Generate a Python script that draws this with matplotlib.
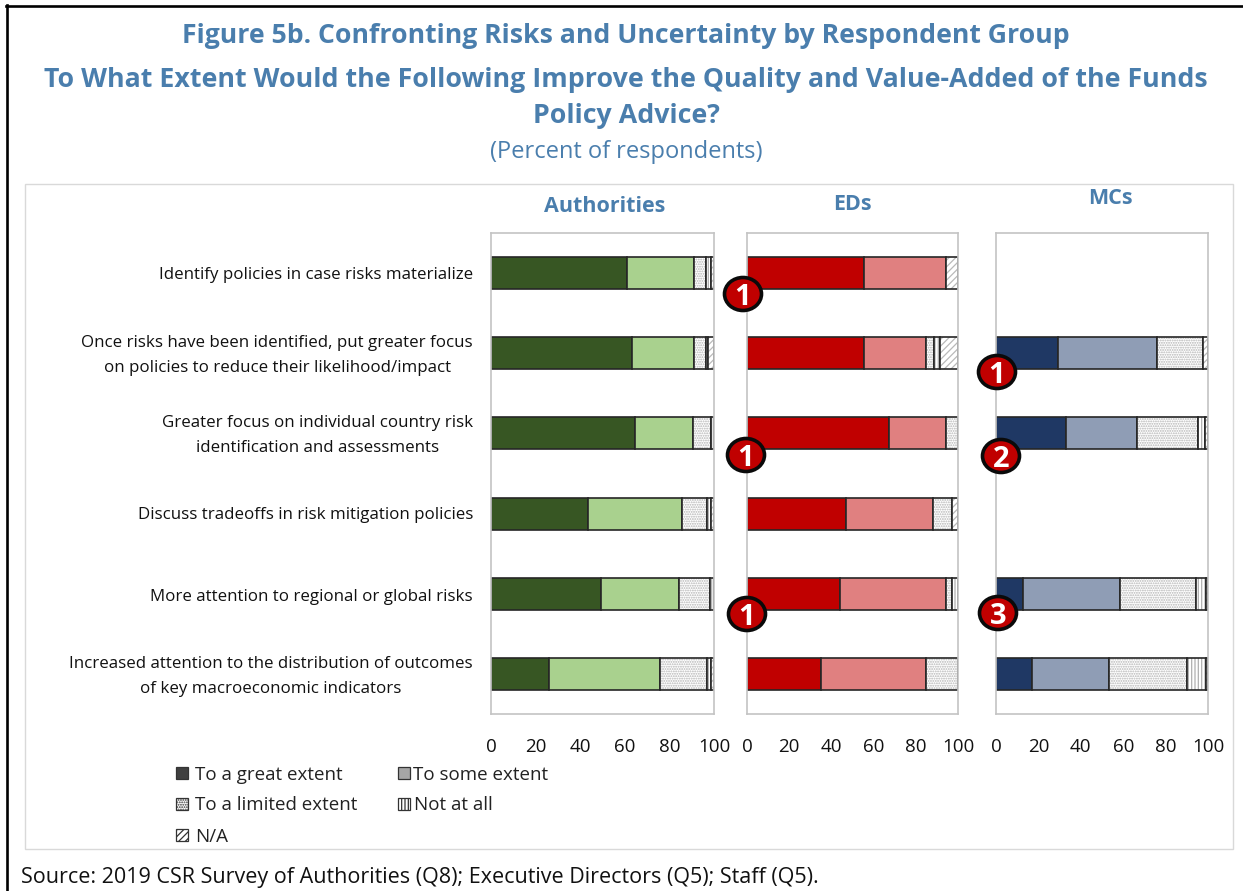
import matplotlib
matplotlib.use("Agg")
import matplotlib.pyplot as plt
from matplotlib.patches import Ellipse, Rectangle
from matplotlib.lines import Line2D
import numpy as np

plt.rcParams['font.family'] = ['Open Sans', 'DejaVu Sans']
plt.rcParams['hatch.linewidth'] = 0.9

W, H = 1243, 891

categories = [
    "Identify policies in case risks materialize",
    "Once risks have been identified, put greater focus\non policies to reduce their likelihood/impact",
    "Greater focus on individual country risk\nidentification and assessments",
    "Discuss tradeoffs in risk mitigation policies",
    "More attention to regional or global risks",
    "Increased attention to the distribution of outcomes\nof key macroeconomic indicators",
]
series_names = ["To a great extent", "To some extent", "To a limited extent", "Not at all", "N/A"]

auth_great = [61.2, 63.4, 64.5, 43.5, 49.5, 26.2]
auth_some = [29.8, 27.6, 25.9, 42.0, 34.9, 49.4]
auth_limited = [5.2, 5.2, 8.1, 11.5, 14.0, 21.4]
auth_none = [2.3, 1.0, 1.5, 1.5, 1.6, 1.8]
auth_na = [1.5, 2.8, 0.0, 1.5, 0.0, 1.2]

ed_great = [55.6, 55.6, 67.2, 46.8, 43.9, 35.0]
ed_some = [38.5, 29.0, 26.9, 41.3, 50.2, 49.8]
ed_limited = [0.0, 3.8, 5.9, 8.9, 2.9, 15.2]
ed_none = [0.0, 2.9, 0.0, 0.0, 3.0, 0.0]
ed_na = [5.9, 8.7, 0.0, 3.0, 0.0, 0.0]

mc_great = [np.nan, 29.1, 33.2, np.nan, 12.8, 16.9]
mc_some = [np.nan, 46.8, 33.1, np.nan, 45.8, 36.6]
mc_limited = [np.nan, 21.6, 29.0, np.nan, 35.6, 36.5]
mc_none = [np.nan, 0.0, 3.4, np.nan, 4.8, 9.0]
mc_na = [np.nan, 2.5, 1.3, np.nan, 1.0, 1.0]

panel_titles = ["Authorities", "EDs", "MCs"]
xticks = [0, 20, 40, 60, 80, 100]
badge_labels = ["1", "1", "1", "1", "2", "3"]

title_blue = "#4a7ead"
fig = plt.figure(figsize=(W / 100, H / 100), dpi=100)

def frect(x0, y0, x1, y1):
    return [x0 / W, 1 - y1 / H, (x1 - x0) / W, (y1 - y0) / H]

def ftext(x, y, s, **kw):
    fig.text(x / W, 1 - (y + 2) / H, s, **kw)

# outer frame: top and left rules only, running off the image
fig.add_artist(Line2D([6.5 / W, 6.5 / W], [0, 1 - 5 / H], transform=fig.transFigure, color="black", lw=1.9))
fig.add_artist(Line2D([5.5 / W, 1], [1 - 6 / H, 1 - 6 / H], transform=fig.transFigure, color="black", lw=1.9))
fig.add_artist(Rectangle((25 / W, 1 - 849 / H), (1233 - 25) / W, (849 - 184) / H, transform=fig.transFigure,
                         fill=False, ec="#d9d9d9", lw=1.0))

ftext(626, 34, "Figure 5b. Confronting Risks and Uncertainty by Respondent Group", ha="center", va="center",
      fontsize=19.2, fontweight="bold", color=title_blue)
ftext(626, 78, "To What Extent Would the Following Improve the Quality and Value-Added of the Funds", ha="center",
      va="center", fontsize=19.3, fontweight="bold", color=title_blue)
ftext(626, 114, "Policy Advice?", ha="center", va="center", fontsize=19.3, fontweight="bold", color=title_blue)
ftext(626, 150, "(Percent of respondents)", ha="center", va="center", fontsize=17, color=title_blue)
ftext(21, 875, "Source: 2019 CSR Survey of Authorities (Q8); Executive Directors (Q5); Staff (Q5).", ha="left",
      va="center", fontsize=15.5, color="#111111")

panels = [
    dict(rect=(491, 233, 714, 714), vals=[auth_great, auth_some, auth_limited, auth_none, auth_na],
         cols=("#375623", "#a9d18e"), title_y=204, title_c=605),
    dict(rect=(747, 233, 958, 714), vals=[ed_great, ed_some, ed_limited, ed_none, ed_na],
         cols=("#c00000", "#e08080"), title_y=203, title_c=852),
    dict(rect=(996, 233, 1208, 714), vals=[mc_great, mc_some, mc_limited, mc_none, mc_na],
         cols=("#1f3864", "#8f9db5"), title_y=197, title_c=1110),
]

y = np.arange(len(categories))
axes = []
for p, title in zip(panels, panel_titles):
    ax = fig.add_axes(frect(*p["rect"]))
    axes.append(ax)
    left = np.zeros(len(categories))
    styles = [
        dict(color=p["cols"][0], hatch=None),
        dict(color=p["cols"][1], hatch=None),
        dict(color="white", hatch=".......", hc="#b4b4b4"),
        dict(color="white", hatch="|||||", hc="#b0b0b0"),
        dict(color="white", hatch="/////", hc="#bababa"),
    ]
    for vals, st in zip(p["vals"], styles):
        v = np.array(vals, dtype=float)
        mask = ~np.isnan(v) & (v > 0)
        if st["hatch"]:
            ax.barh(y[mask], v[mask], left=left[mask], height=0.4, facecolor="white", edgecolor=st["hc"],
                    hatch=st["hatch"], lw=0)
            ax.barh(y[mask], v[mask], left=left[mask], height=0.4, fill=False, edgecolor="#262626", lw=1.2)
        else:
            ax.barh(y[mask], v[mask], left=left[mask], height=0.4, color=st["color"], edgecolor="#262626", lw=1.2)
        left = left + np.nan_to_num(v)
    ax.set_xlim(0, 100)
    ax.set_ylim(len(categories) - 0.5, -0.5)
    ax.set_xticks(xticks)
    ax.set_yticks([])
    ax.tick_params(axis="x", length=0, labelsize=13.5, pad=17, labelcolor="#111111")
    for s in ax.spines.values():
        s.set_color("#c4c4c4")
        s.set_linewidth(1.2)
    ftext(p["title_c"], p["title_y"], title, ha="center", va="center", fontsize=15.5, fontweight="bold",
          color=title_blue)

# category labels
label_y = [273, 353.5, 433.5, 513, 595, 674.5]
for lab, yy in zip(categories, label_y):
    fig.text(473 / W, 1 - (yy + 2) / H, lab, ha="right", va="center", multialignment="center", fontsize=12.2,
             color="#111111", linespacing=1.72)

# numbered badges, placed in image pixels
badge_x = [743, 746, 747, 997, 1001, 998]
badge_y = [294, 455, 614, 372, 456, 613]
for lab, bx, by in zip(badge_labels, badge_x, badge_y):
    fx, fy = bx / W, 1 - by / H
    fig.add_artist(Ellipse((fx, fy), 37 / W, 33 / H, transform=fig.transFigure, fc="#c00000", ec="#0a0a0a",
                           lw=2.6, zorder=10))
    fig.text(fx, fy, lab, ha="center", va="center_baseline", fontsize=21, fontweight="bold", color="white", zorder=11)

# legend
legend_pos = [(176, 773), (398, 773), (176, 804), (398, 804), (176, 835)]
legend_txt = [195, 413, 195, 414, 195]
legend_face = ["#404040", "#a6a6a6", "white", "white", "white"]
legend_hatch = [None, None, ".......", "|||||", "/////"]
for name, (lx, ly), tx, fc, hh in zip(series_names, legend_pos, legend_txt, legend_face, legend_hatch):
    fig.add_artist(Rectangle((lx / W, 1 - (ly + 6) / H), 12 / W, 12 / H, transform=fig.transFigure, facecolor=fc,
                             edgecolor="#333333", hatch=hh, lw=0.9))
    ftext(tx, ly - 0.5, name, ha="left", va="center", fontsize=13.5, color="#222222")

fig.savefig("out.png", dpi=100)
